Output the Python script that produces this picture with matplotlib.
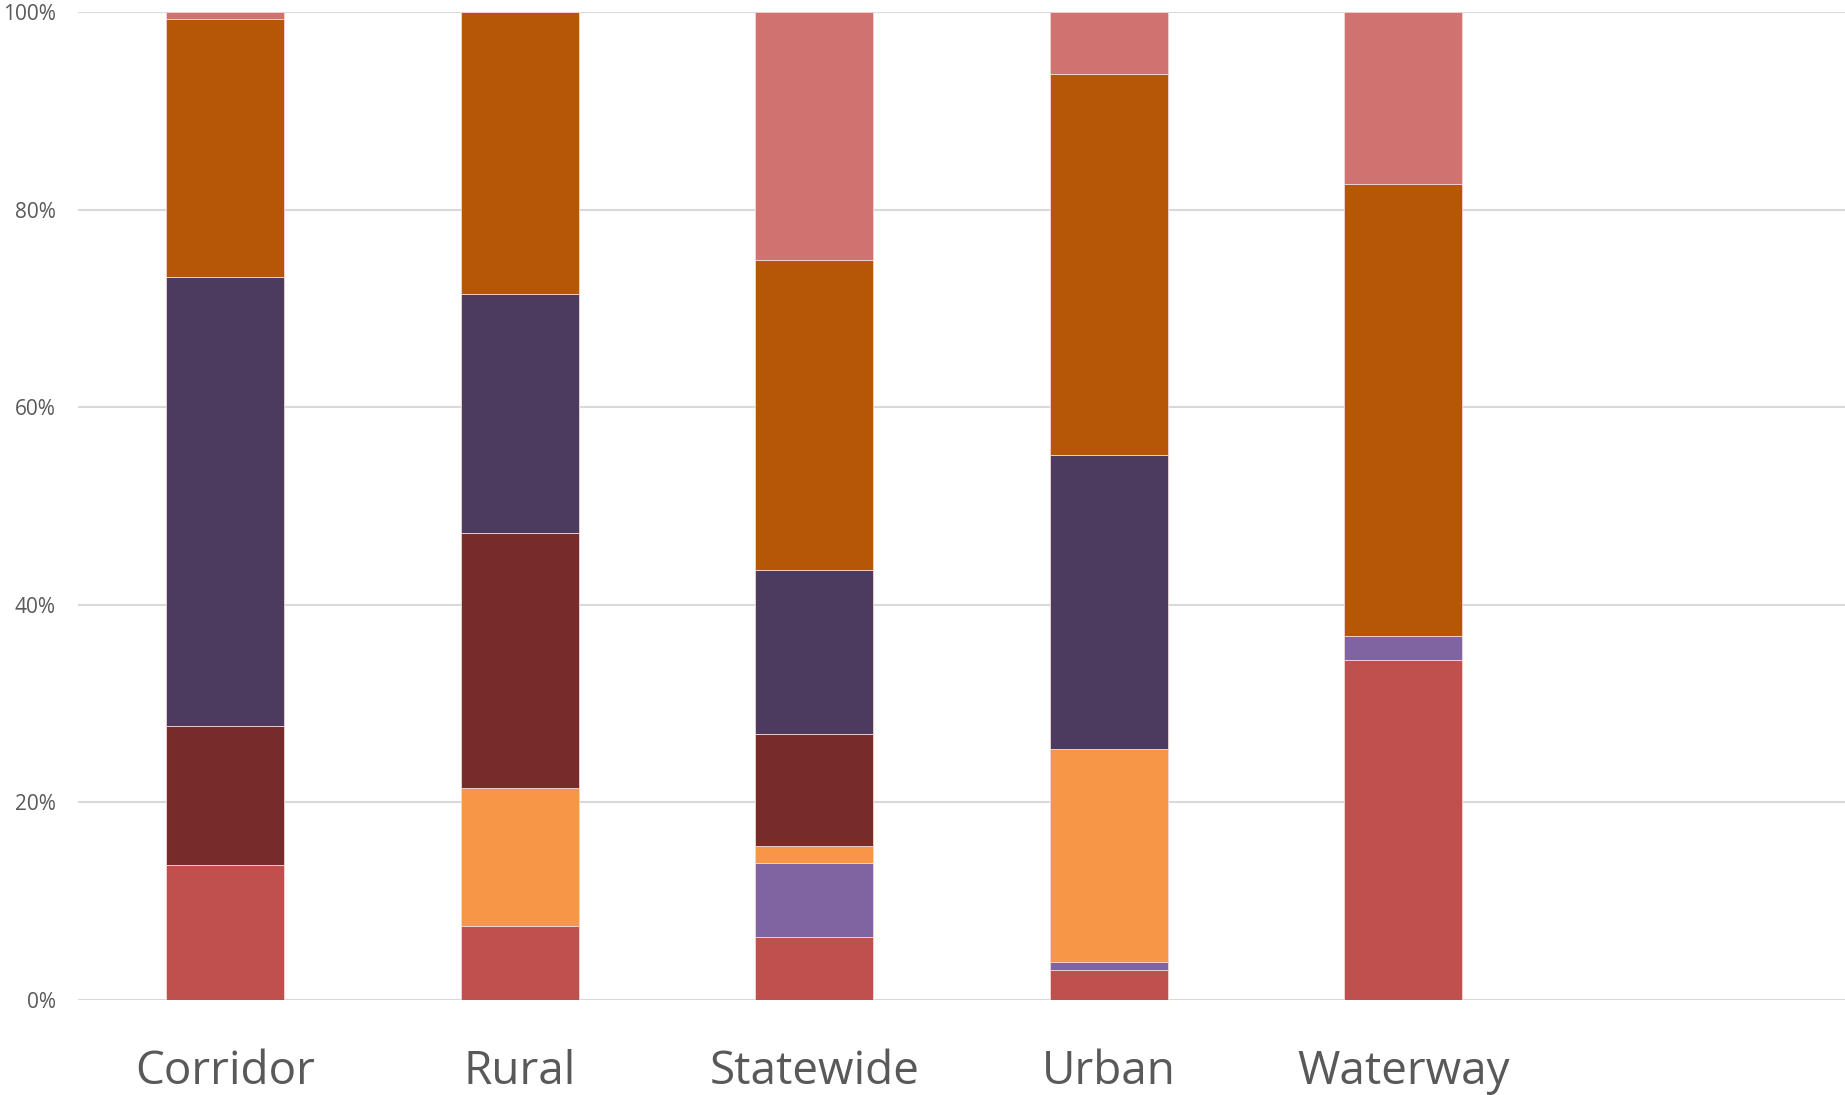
import numpy as np
import matplotlib.pyplot as plt
from matplotlib.ticker import PercentFormatter

# categories (last slot is empty in the original chart)
categories = ['Corridor', 'Rural', 'Statewide', 'Urban', 'Waterway', '']

# shares per series, bottom to top, in percent
red = [13.7, 7.5, 6.4, 3.0, 34.4, 0]
purple = [0.0, 0.0, 7.5, 0.8, 2.4, 0]
light_orange = [0.0, 14.0, 1.7, 21.6, 0.0, 0]
dark_red = [14.0, 25.8, 11.3, 0.0, 0.0, 0]
dark_purple = [45.5, 24.2, 16.6, 29.8, 0.0, 0]
dark_orange = [26.1, 28.5, 31.4, 38.5, 45.8, 0]
pink = [0.7, 0.0, 25.1, 6.3, 17.4, 0]

series = [red, purple, light_orange, dark_red, dark_purple, dark_orange, pink]
colors = ['#C0504D', '#8064A2', '#F79646', '#772C2A', '#4C3A5F', '#B65708', '#D07370']

fig = plt.figure(figsize=(18.45, 10.95), dpi=100)
ax = fig.add_axes([0.0423, 0.0868, 0.9577, 0.9022])

x = np.arange(len(categories))
bottom = np.zeros(len(categories))
for vals, c in zip(series, colors):
    vals = np.array(vals, dtype=float)
    ax.bar(x, vals, width=0.4, bottom=bottom, color=c,
           edgecolor='#F2D7D5', linewidth=0.6, zorder=3)
    bottom += vals

ax.set_xlim(-0.5, len(categories) - 0.5)
ax.set_ylim(0, 100)
ax.set_yticks(np.arange(0, 101, 20))
ax.yaxis.set_major_formatter(PercentFormatter(decimals=0))
ax.grid(axis='y', color='#D9D9D9', linewidth=1.5, zorder=0)
for s in ax.spines.values():
    s.set_visible(False)
ax.tick_params(axis='y', length=0, labelsize=15, labelcolor='#595959', pad=16)
ax.tick_params(axis='x', length=0, pad=35)
ax.set_xticks(x)
ax.set_xticklabels(categories, fontsize=33, color='#595959', family='Open Sans')
for lab in ax.get_yticklabels():
    lab.set_family('Open Sans')

fig.savefig('out.png', dpi=100, facecolor='white')
